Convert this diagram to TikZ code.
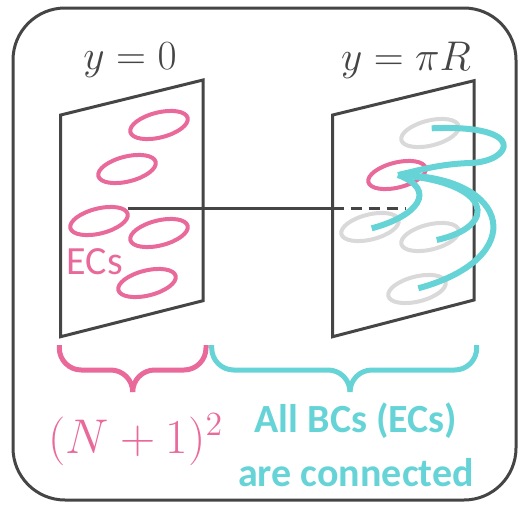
\documentclass[tikz,border=0pt]{standalone}
\usepackage{fontspec}
\setmainfont{Carlito}
\usetikzlibrary{arrows.meta}
\definecolor{ecpink}{HTML}{E8699A}
\definecolor{bccyan}{HTML}{66D4D7}
\definecolor{framegray}{HTML}{454545}
\definecolor{ghost}{HTML}{D9D9D9}
\begin{document}
\begin{tikzpicture}[x=1pt,y=-1pt,
  panel/.style={draw=framegray,line width=3pt,line join=miter},
  ec/.style={draw=ecpink,line width=4pt},
  gc/.style={draw=ghost,line width=4pt},
  link/.style={draw=bccyan,line width=6pt,line cap=butt},
  brace/.style={line width=5pt,rounded corners=22pt},
  lbl/.style={inner sep=0pt},
  mathlbl/.style={inner sep=0pt,font=\fontsize{20.74}{22}\selectfont}]
\useasboundingbox (0,0) rectangle (522,507);
\draw[draw=framegray,line width=3pt,rounded corners=52pt] (13,8) rectangle (516,500);
% panels
\draw[panel] (60.7,115) -- (203,80) -- (203,300.7) -- (60.7,336.7) -- cycle;
\draw[panel] (332.7,115) -- (474,80.7) -- (474,300) -- (332.7,336.7) -- cycle;
% left ellipses
\foreach \p in {{159,125},{127,169},{99,221},{159,233},{147,283}}
  \draw[ec] (\p) ellipse [x radius=29.5pt,y radius=12.5pt,rotate=14];
% right ellipses
\foreach \p in {{430,133},{370,227},{430,237},{417,289}}
  \draw[gc] (\p) ellipse [x radius=29.5pt,y radius=12.5pt,rotate=14];
\draw[ec] (397,175) ellipse [x radius=29.5pt,y radius=12.5pt,rotate=14];
% connecting line
\coordinate (s) at (127.5,208.3);
\coordinate (m) at (332.7,208.3);
\coordinate (e) at (406,208.3);
\draw[draw=framegray,line width=3pt] (s) -- (m);
\draw[draw=framegray,line width=3pt,dash pattern=on 11pt off 7pt] (m) -- (e);
% cyan links
\coordinate (T) at (398,175);
\draw[link] (431.7,128.3) .. controls (530,124) and (512,162) .. (470,163) .. controls (440,164) and (420,170) .. (T);
\draw[link] (371.7,228.3) .. controls (418,216) and (438,190) .. (T);
\draw[link] (436.7,240) .. controls (500,226) and (492,182) .. (T);
\draw[link] (418.3,288.3) .. controls (530,258) and (512,176) .. (T);
% labels
\node[lbl,text=ecpink,font=\fontsize{40}{42}\selectfont] (ecs) at (94.7,262) {ECs};
\node[mathlbl,text=framegray,scale=2.0] (y0) at (130,60) {$y=0$};
\node[mathlbl,text=framegray,scale=2.0] (ypi) at (406,60) {$y=\pi R$};
% braces
\coordinate (pl) at (59.3,345);
\coordinate (pr) at (206,345);
\coordinate (pt) at (132.7,392);
\draw[brace,draw=ecpink] (pl) -- (59.3,370) -- (132.7,370) -- (pt);
\draw[brace,draw=ecpink] (pr) -- (206,370) -- (132.7,370) -- (pt);
\coordinate (cl) at (211.7,345);
\coordinate (cr) at (476.7,345);
\coordinate (ct) at (350,392);
\draw[brace,draw=bccyan] (cl) -- (211.7,370) -- (350,370) -- (ct);
\draw[brace,draw=bccyan] (cr) -- (476.7,370) -- (350,370) -- (ct);
\node[mathlbl,text=ecpink,scale=2.35] (nn) at (136,440) {$(N+1)^2$};
\node[lbl,text=bccyan,font=\bfseries\fontsize{40}{54}\selectfont,align=center] (all) at (356,445) {All BCs (ECs)\\are connected};
\end{tikzpicture}
\end{document}
